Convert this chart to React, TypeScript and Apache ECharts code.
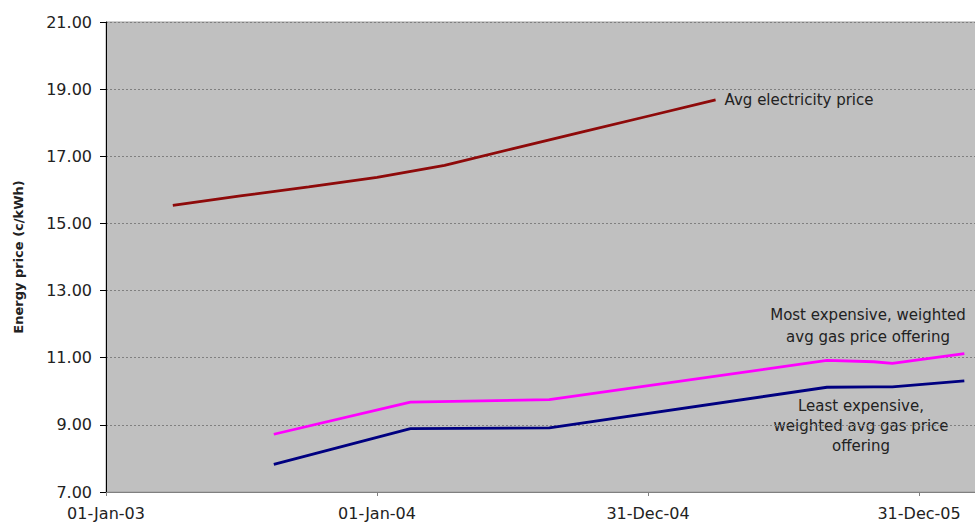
import React, { useEffect, useRef } from "react";
import * as echarts from "echarts";

// Quarterly average electricity price (c/kWh)
const elecDates = [
  "2003-04-01", "2003-07-01", "2003-10-01", "2004-01-01", "2004-04-01",
  "2004-07-01", "2004-10-01", "2005-01-01", "2005-04-01",
];
const elecPrice = [15.54, 15.82, 16.09, 16.37, 16.73, 17.22, 17.71, 18.2, 18.68];

// Gas price offerings (c/kWh) at each tariff change
const gasDates = [
  "2003-08-15", "2004-02-15", "2004-08-20", "2005-08-29",
  "2005-10-31", "2005-11-25", "2006-03-02",
];
const mostExpensive = [8.72, 9.68, 9.75, 10.92, 10.88, 10.83, 11.12];
const leastExpensive = [7.82, 8.89, 8.91, 10.12, 10.13, 10.13, 10.31];

const yTicks = { min: 7, max: 21, step: 2 };

const ORIGIN = Date.UTC(2003, 0, 1);
const DAY = 86400000;
const MONTHS = ["Jan", "Feb", "Mar", "Apr", "May", "Jun", "Jul", "Aug", "Sep", "Oct", "Nov", "Dec"];

const toDay = (s: string) => {
  const [y, m, d] = s.split("-").map(Number);
  return Math.round((Date.UTC(y, m - 1, d) - ORIGIN) / DAY);
};
const fmtDay = (n: number) => {
  const dt = new Date(ORIGIN + n * DAY);
  const dd = String(dt.getUTCDate()).padStart(2, "0");
  const yy = String(dt.getUTCFullYear() % 100).padStart(2, "0");
  return `${dd}-${MONTHS[dt.getUTCMonth()]}-${yy}`;
};
const pairs = (dates: string[], vals: number[]) => dates.map((d, i) => [toDay(d), vals[i]]);

const FONT = "DejaVu Sans";
const TEXT = "#222";

export default function App() {
  const ref = useRef<HTMLDivElement>(null);

  useEffect(() => {
    const chart = echarts.init(ref.current!, undefined, { renderer: "svg" });
    chart.setOption({
      animation: false,
      backgroundColor: "#ffffff",
      grid: {
        left: 106,
        top: 22,
        bottom: 30,
        right: 3,
        show: true,
        backgroundColor: "#c0c0c0",
        borderColor: "#a0a0a0",
        borderWidth: 1,
      },
      xAxis: {
        type: "value",
        min: 0,
        max: 1200,
        interval: 365,
        axisLine: { show: true, onZero: false, lineStyle: { color: "#808080", width: 1 } },
        axisTick: { show: true, length: 4, lineStyle: { color: "#808080" } },
        splitLine: { show: false },
        axisLabel: {
          margin: 13,
          fontFamily: FONT,
          fontSize: 16,
          color: TEXT,
          formatter: (v: number) => (v % 365 === 0 ? fmtDay(v) : ""),
        },
      },
      yAxis: {
        type: "value",
        min: yTicks.min,
        max: yTicks.max,
        interval: yTicks.step,
        name: "Energy price (c/kWh)",
        nameLocation: "middle",
        nameGap: 81,
        nameRotate: 90,
        nameTextStyle: { fontFamily: FONT, fontSize: 13, fontWeight: "bold", color: TEXT },
        axisLine: { show: true, lineStyle: { color: "#000", width: 1 } },
        axisTick: { show: true, length: 6, lineStyle: { color: "#000" } },
        splitLine: { show: true, lineStyle: { color: "#808080", type: [2, 2], width: 1 } },
        axisLabel: {
          margin: 14,
          fontFamily: FONT,
          fontSize: 16,
          color: TEXT,
          formatter: (v: number) => v.toFixed(2),
        },
      },
      series: [
        {
          name: "Avg electricity price",
          type: "line",
          data: pairs(elecDates, elecPrice),
          symbol: "none",
          lineStyle: { color: "#8e0a0a", width: 2.8 },
          endLabel: {
            show: true,
            formatter: "Avg electricity price",
            distance: 9,
            fontFamily: FONT,
            fontSize: 15,
            color: TEXT,
          },
        },
        {
          name: "Most expensive",
          type: "line",
          data: pairs(gasDates, mostExpensive),
          symbol: "none",
          lineStyle: { color: "#ff00ff", width: 2.8 },
        },
        {
          name: "Least expensive",
          type: "line",
          data: pairs(gasDates, leastExpensive),
          symbol: "none",
          lineStyle: { color: "#000080", width: 2.8 },
        },
      ],
      graphic: [
        {
          type: "text",
          x: 868,
          y: 326,
          style: {
            text: "Most expensive, weighted\navg gas price offering",
            align: "center",
            verticalAlign: "middle",
            fontFamily: FONT,
            fontSize: 15,
            lineHeight: 22,
            fill: TEXT,
          },
        },
        {
          type: "text",
          x: 861,
          y: 426,
          style: {
            text: "Least expensive,\nweighted avg gas price\noffering",
            align: "center",
            verticalAlign: "middle",
            fontFamily: FONT,
            fontSize: 15,
            lineHeight: 20,
            fill: TEXT,
          },
        },
      ],
    });
    return () => chart.dispose();
  }, []);

  // The plot area runs past the right edge of the visible frame.
  return (
    <div style={{ position: "fixed", left: 0, top: 0, width: 975, height: 522, overflow: "hidden" }}>
      <div ref={ref} style={{ width: 1000, height: 522 }} />
    </div>
  );
}
